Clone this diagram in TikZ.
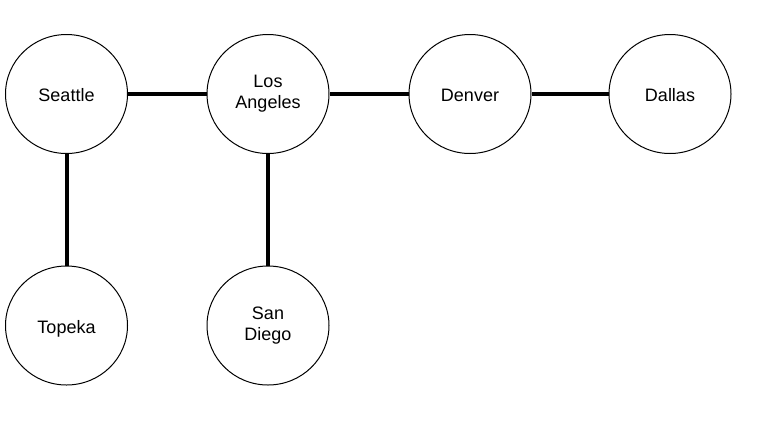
\documentclass[tikz,border=0pt]{standalone}
\usepackage{fontspec}
\setmainfont{Liberation Sans}
\usetikzlibrary{shapes.geometric}

\begin{document}
\begin{tikzpicture}[x=1pt,y=-1pt,
  city/.style={ellipse,draw,line width=1pt,minimum width=122pt,minimum height=119pt,
    inner sep=0pt,align=center,font=\fontsize{18}{21.3}\selectfont,
    execute at begin node=\rule{0pt}{19.4pt},execute at end node=\rule[-4pt]{0pt}{4pt}}]
\useasboundingbox (0,0) rectangle (766,421);

\node[city] (seattle) at (66.5,94) {Seattle};
\node[city] (la) at (268,94) {Los\\Angeles};
\node[city] (denver) at (470,94) {Denver};
\node[city] (dallas) at (670,94) {Dallas};
\node[city] (topeka) at (66.5,325.5) {Topeka};
\node[city] (sandiego) at (268,325.5) {San\\Diego};

\draw[line width=4pt] (seattle) -- (la);
\draw[line width=4pt] (la) -- (denver);
\draw[line width=4pt] (denver) -- (dallas);
\draw[line width=4pt] (seattle) -- (topeka);
\draw[line width=4pt] (la) -- (sandiego);

\end{tikzpicture}
\end{document}
